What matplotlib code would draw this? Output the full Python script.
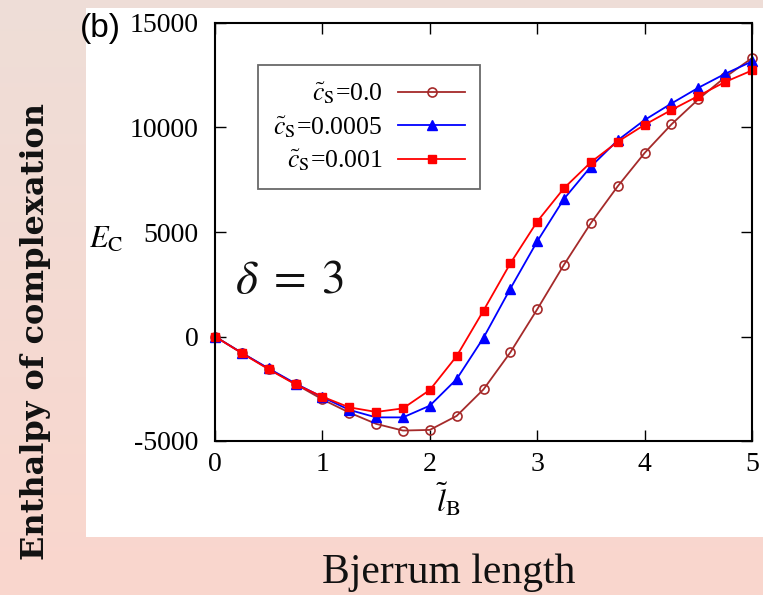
import numpy as np
import matplotlib
matplotlib.use("Agg")
import matplotlib.pyplot as plt
from matplotlib.patches import Rectangle

plt.rcParams['mathtext.fontset'] = 'stix'
plt.rcParams['font.family'] = ['Liberation Serif', 'DejaVu Serif']

# ---- data ----
lB = [0, 0.25, 0.5, 0.75, 1.0, 1.25, 1.5, 1.75, 2.0, 2.25, 2.5,
      2.75, 3.0, 3.25, 3.5, 3.75, 4.0, 4.25, 4.5, 4.75, 5.0]
E_cs0 = [0, -780, -1550, -2280, -3010, -3640, -4180, -4500, -4470, -3800, -2530,
         -760, 1300, 3440, 5430, 7190, 8780, 10150, 11350, 12410, 13320]
E_cs0005 = [0, -790, -1530, -2250, -2900, -3510, -3870, -3870, -3310, -2040, -60,
            2290, 4550, 6590, 8130, 9390, 10360, 11150, 11900, 12570, 13160]
E_cs001 = [0, -800, -1570, -2290, -2880, -3390, -3610, -3440, -2560, -940, 1240,
           3500, 5500, 7100, 8340, 9320, 10130, 10840, 11510, 12180, 12730]
labels = [r'$\tilde{c}_\mathrm{S}$=0.0', r'$\tilde{c}_\mathrm{S}$=0.0005', r'$\tilde{c}_\mathrm{S}$=0.001']
xticks = [0, 1, 2, 3, 4, 5]
yticks = [-5000, 0, 5000, 10000, 15000]

W, H = 763, 595
fig = plt.figure(figsize=(W / 100, H / 100), dpi=100)

# background gradient
bg = fig.add_axes([0, 0, 1, 1], zorder=-10)
top = np.array([0.935, 0.870, 0.845])
bot = np.array([0.980, 0.840, 0.805])
t = np.linspace(0, 1, 256)[:, None, None]
grad = top * (1 - t) + bot * t
grad = np.repeat(grad, 2, axis=1)
bg.imshow(grad, aspect='auto', extent=[0, 1, 0, 1], origin='upper')
bg.set_xlim(0, 1); bg.set_ylim(0, 1)
bg.axis('off')
bg.add_patch(Rectangle((86 / W, 1 - 537 / H), 1 - 86 / W, (537 - 8) / H,
                       facecolor='white', edgecolor='none'))

ax = fig.add_axes([215 / W, 1 - 441 / H, (752 - 215) / W, (441 - 23) / H])
ax.plot(lB, E_cs0, color='#a52a2a', lw=1.3, marker='o', ms=6.5, mfc='none',
        mew=1.2, label=labels[0], clip_on=False)
ax.plot(lB, E_cs0005, color='#0000ff', lw=1.3, marker='^', ms=7,
        label=labels[1], clip_on=False)
ax.plot(lB, E_cs001, color='#ff0000', lw=1.3, marker='s', ms=6,
        label=labels[2], clip_on=False)

ax.set_xlim(0, 5)
ax.set_ylim(-5000, 15000)
ax.set_xticks(xticks)
ax.set_yticks(yticks)
ax.set_xticklabels([str(v) for v in xticks])
ax.set_yticklabels([str(v) for v in yticks])
ax.tick_params(direction='in', length=8, width=1.0, top=True, right=True,
               labelsize=20, colors='black')
ax.tick_params(axis='x', pad=8)
ax.tick_params(axis='y', pad=12)
for s in ax.spines.values():
    s.set_linewidth(1.5)

leg = ax.legend(loc='upper left', bbox_to_anchor=(43 / 537, 1 - 42 / 418),
                markerfirst=False, fontsize=18.5, frameon=True, fancybox=False,
                edgecolor='#444444', handlelength=2.6, handletextpad=0.6,
                borderpad=0.6, labelspacing=0.3, borderaxespad=0,
                alignment='right')
leg.get_frame().set_linewidth(1.3)
for txt in leg.get_texts():
    txt.set_ha('right')

ax.text(0.037, 0.38, r'$\delta \;=\; 3$', transform=ax.transAxes, fontsize=34,
        color='#111111', va='center', ha='left')

fig.text(106 / W, 1 - 240 / H, r'$E_\mathrm{C}$', fontsize=22, ha='center', va='center')
fig.text(448 / W, 1 - 500 / H, r'$\tilde{l}_\mathrm{B}$', fontsize=23, ha='center', va='center')
fig.text(100 / W, 1 - 28 / H, '(b)', fontsize=24, ha='center', va='center',
         family='Liberation Sans')

fig.text(36 / W, 1 - 332 / H, 'Enthalpy of complexation', rotation=90,
         fontsize=23, fontweight='bold', ha='center', va='center', color='#111111',
         family='DejaVu Serif')
fig.text(449 / W, 1 - 573 / H, 'Bjerrum length', fontsize=30,
         ha='center', va='center', color='#111111')

fig.savefig('out.png', dpi=100)
